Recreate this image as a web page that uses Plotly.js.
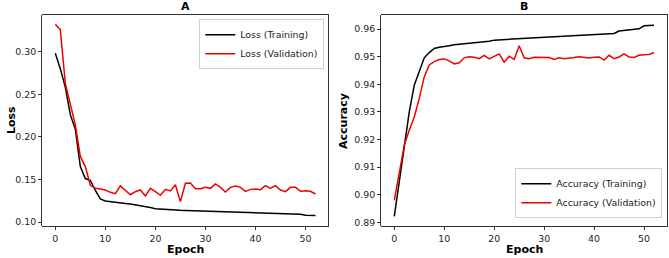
<!DOCTYPE html>
<html>
<head>
<meta charset="utf-8">
<script src="https://cdn.plot.ly/plotly-3.0.1.min.js"></script>
<style>html,body{margin:0;padding:0;background:#fff;}#chart{width:669px;height:258px;}</style>
</head>
<body>
<div id="chart"></div>
<script>
const epochs = Array.from({length: 53}, (_, i) => i);

const lossTraining = [0.298, 0.280, 0.258, 0.226, 0.209, 0.165, 0.151, 0.149, 0.137, 0.127,
  0.1246, 0.1237, 0.1230, 0.1225, 0.1218, 0.1210, 0.1202, 0.1193, 0.1182, 0.1170,
  0.1155, 0.1150, 0.1147, 0.1144, 0.1140, 0.1137, 0.1135, 0.1133, 0.1131, 0.1130,
  0.1128, 0.1118, 0.1117, 0.1116, 0.1115, 0.1113, 0.1110, 0.1107, 0.1105, 0.1102,
  0.1100, 0.1098, 0.1097, 0.1096, 0.1095, 0.1094, 0.1093, 0.1092, 0.1091, 0.1090,
  0.1079, 0.1076, 0.1075];

const lossValidation = [0.332, 0.326, 0.2625, 0.239, 0.214, 0.177, 0.165, 0.143, 0.1395, 0.1387,
  0.1376, 0.1348, 0.1333, 0.1423, 0.1376, 0.1320, 0.1356, 0.1376, 0.1305, 0.1395,
  0.1356, 0.1313, 0.1383, 0.1364, 0.1438, 0.1239, 0.1454, 0.1458, 0.1390, 0.1390,
  0.1407, 0.1395, 0.1446, 0.1407, 0.1352, 0.1407, 0.1423, 0.1407, 0.1360, 0.1383,
  0.1387, 0.1380, 0.1426, 0.1395, 0.1426, 0.1376, 0.1356, 0.1407, 0.1407, 0.1360,
  0.1368, 0.1360, 0.1329];

const accTraining = [0.8922, 0.9047, 0.9186, 0.9300, 0.9397, 0.9445, 0.9496, 0.9515, 0.9530, 0.9534,
  0.9538, 0.9540, 0.9543, 0.9545, 0.9547, 0.9549, 0.9550, 0.9552, 0.9553, 0.9556,
  0.9560, 0.9561, 0.9562, 0.9563, 0.9565, 0.9566, 0.9567, 0.9568, 0.9569, 0.9570,
  0.9571, 0.9572, 0.9573, 0.9574, 0.9575, 0.9576, 0.9576, 0.9577, 0.9578, 0.9579,
  0.9580, 0.9581, 0.9582, 0.9583, 0.9584, 0.9593, 0.9595, 0.9596, 0.9597, 0.9601,
  0.9612, 0.9613, 0.9614];

const accValidation = [0.8980, 0.9083, 0.9180, 0.9234, 0.9282, 0.9349, 0.9427, 0.9470, 0.9482, 0.9490,
  0.9492, 0.9485, 0.9474, 0.9478, 0.9496, 0.9500, 0.9498, 0.9493, 0.9505, 0.9492,
  0.9500, 0.9510, 0.9480, 0.9502, 0.9490, 0.9540, 0.9496, 0.9493, 0.9498, 0.9497,
  0.9497, 0.9497, 0.9490, 0.9496, 0.9493, 0.9494, 0.9497, 0.9500, 0.9498, 0.9495,
  0.9498, 0.9499, 0.9488, 0.9505, 0.9493, 0.9499, 0.9510, 0.9499, 0.9497, 0.9505,
  0.9507, 0.9508, 0.9515];

const xTicks = [0, 10, 20, 30, 40, 50];
const lossTicks = [0.10, 0.15, 0.20, 0.25, 0.30];
const accTicks = [0.89, 0.90, 0.91, 0.92, 0.93, 0.94, 0.95, 0.96];

const FONT = 'DejaVu Sans, sans-serif';
const TICKFONT = {family: FONT, size: 9.4, color: '#222'};

const traces = [
  {x: epochs, y: lossTraining, name: 'Loss (Training)', mode: 'lines', line: {color: '#000000', width: 1.5}, xaxis: 'x', yaxis: 'y', legend: 'legend'},
  {x: epochs, y: lossValidation, name: 'Loss (Validation)', mode: 'lines', line: {color: '#ee0000', width: 1.5}, xaxis: 'x', yaxis: 'y', legend: 'legend'},
  {x: epochs, y: accTraining, name: 'Accuracy (Training)', mode: 'lines', line: {color: '#000000', width: 1.5}, xaxis: 'x2', yaxis: 'y2', legend: 'legend2'},
  {x: epochs, y: accValidation, name: 'Accuracy (Validation)', mode: 'lines', line: {color: '#ee0000', width: 1.5}, xaxis: 'x2', yaxis: 'y2', legend: 'legend2'}
];

function axisBase() {
  return {
    showline: true, mirror: true, linecolor: '#000', linewidth: 0.8,
    ticks: 'outside', ticklen: 3.5, tickwidth: 0.8, tickcolor: '#000',
    showgrid: false, zeroline: false, tickfont: TICKFONT, fixedrange: true
  };
}

const yTop = 1 - 15 / 258, yBot = 1 - 226 / 258;

const layout = {
  width: 669, height: 258,
  margin: {l: 0, r: 0, t: 0, b: 0},
  paper_bgcolor: '#fff', plot_bgcolor: '#fff',
  font: {family: FONT, color: '#000'},
  xaxis: Object.assign(axisBase(), {domain: [42.3 / 669, 328.5 / 669], range: [-2.6, 54.6], tickvals: xTicks, anchor: 'y'}),
  yaxis: Object.assign(axisBase(), {domain: [yBot, yTop], range: [0.0953, 0.343], tickvals: lossTicks, tickformat: '.2f', anchor: 'x'}),
  xaxis2: Object.assign(axisBase(), {domain: [381.3 / 669, 667 / 669], range: [-2.6, 54.6], tickvals: xTicks, anchor: 'y2'}),
  yaxis2: Object.assign(axisBase(), {domain: [yBot, yTop], range: [0.8887, 0.9651], tickvals: accTicks, tickformat: '.2f', anchor: 'x2'}),
  legend: {
    x: 324.3 / 669, y: 1 - 19.3 / 258, xanchor: 'right', yanchor: 'top',
    bgcolor: 'rgba(255,255,255,0.8)', bordercolor: '#d0d0d0', borderwidth: 1,
    font: {family: FONT, size: 9.4, color: '#222'}, itemwidth: 30, tracegroupgap: 0
  },
  legend2: {
    x: 662.3 / 669, y: 1 - 218.3 / 258, xanchor: 'right', yanchor: 'bottom',
    bgcolor: 'rgba(255,255,255,0.8)', bordercolor: '#d0d0d0', borderwidth: 1,
    font: {family: FONT, size: 9.4, color: '#222'}, itemwidth: 30, tracegroupgap: 0
  },
  showlegend: true,
  annotations: [
    {text: '<b>A</b>', xref: 'paper', yref: 'paper', x: 185.4 / 669, y: 1 - 6.5 / 258, xanchor: 'center', yanchor: 'middle', showarrow: false, font: {family: FONT, size: 11, color: '#000'}},
    {text: '<b>B</b>', xref: 'paper', yref: 'paper', x: 524.2 / 669, y: 1 - 6.5 / 258, xanchor: 'center', yanchor: 'middle', showarrow: false, font: {family: FONT, size: 11, color: '#000'}},
    {text: '<b>Epoch</b>', xref: 'paper', yref: 'paper', x: 185.4 / 669, y: 1 - 249.5 / 258, xanchor: 'center', yanchor: 'middle', showarrow: false, font: {family: FONT, size: 11, color: '#000'}},
    {text: '<b>Epoch</b>', xref: 'paper', yref: 'paper', x: 524.2 / 669, y: 1 - 249.5 / 258, xanchor: 'center', yanchor: 'middle', showarrow: false, font: {family: FONT, size: 11, color: '#000'}},
    {text: '<b>Loss</b>', xref: 'paper', yref: 'paper', x: 11.5 / 669, y: 1 - 120.5 / 258, xanchor: 'center', yanchor: 'middle', textangle: -90, showarrow: false, font: {family: FONT, size: 11, color: '#000'}},
    {text: '<b>Accuracy</b>', xref: 'paper', yref: 'paper', x: 344 / 669, y: 1 - 121 / 258, xanchor: 'center', yanchor: 'middle', textangle: -90, showarrow: false, font: {family: FONT, size: 11, color: '#000'}}
  ]
};

Plotly.newPlot('chart', traces, layout, {displayModeBar: false, staticPlot: true});
</script>
</body>
</html>
